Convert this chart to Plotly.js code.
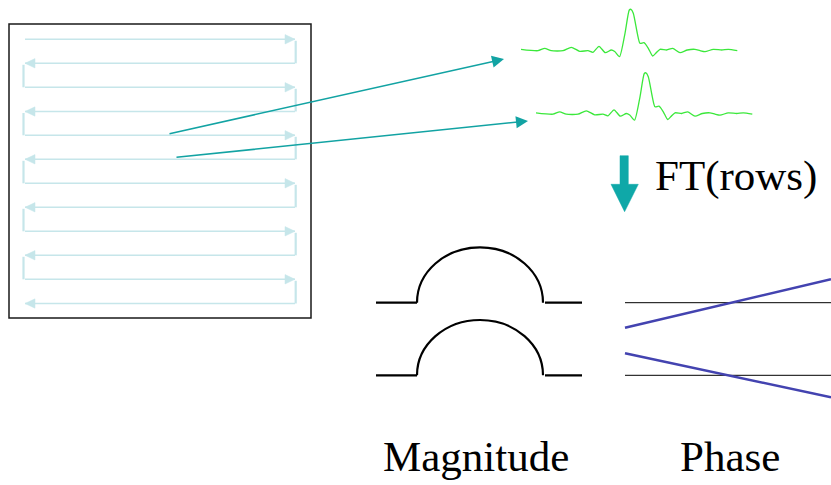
<!DOCTYPE html>
<html>
<head>
<meta charset="utf-8">
<script src="https://cdn.plot.ly/plotly-3.0.1.min.js"></script>
<style>html,body{margin:0;padding:0;background:#fff;}#plot{width:831px;height:485px;}</style>
</head>
<body>
<div id="plot"></div>
<script>
// ---- data (diagram coordinates, page units) ----
// raster scan of k-space rows
const scanRowY = [39.3, 63.3, 87.3, 111.5, 135.3, 159.3, 183.3, 207.3, 231.3, 255.3, 279.3, 303.5];
const scanLeftX = 25;
const scanRightX = 295;
const frameX = [9, 311];
const frameY = [24, 318];

const signalX = [521, 538, 544.7, 551.3, 563, 571.3, 579.7, 588, 593, 599, 605.3, 611.3, 614.7, 619.5,
  625, 629.3, 631, 633.3, 637.3, 640, 644, 648.3, 652.7, 656, 660, 666.7, 672.7, 680, 687.3, 695,
  700, 705, 713.3, 721.7, 728.3, 737.3];
const signalY = [49.3, 50.7, 48.3, 50.7, 50.7, 47.3, 51.3, 50.7, 52.3, 46.3, 52.7, 50, 51.5, 56.7,
  33.3, 10, 9.3, 13.3, 33.3, 43.3, 42.7, 48.3, 56, 53, 49.3, 50, 48.3, 52.7, 50, 49.3,
  50.7, 51.7, 49.3, 50, 49.3, 50.7];
const signalOffsetX = [0, 15];
const signalOffsetY = [0, 63.5];

// pointers from scan rows to signals
const pointerFromX = [168, 175];
const pointerFromY = [134, 157.5];
const pointerToX = [504, 528];
const pointerToY = [59, 121];

// FT arrow
const ftArrowX = [620, 628.3, 628.3, 638.3, 624.6, 611, 620];
const ftArrowY = [155.7, 155.7, 184.3, 184.3, 211.7, 184.3, 184.3];

// magnitude humps
const magBaseY = [302.7, 375.3];
const magHeight = [55.4, 55.3];
const magFlatLeft = [376, 417];
const magHump = [417, 543];
const magFlatRight = [545, 582];

// phase: reference lines and linear phase ramps
const phaseRefX = [625, 831];
const phaseRampStartY = [327.7, 353.3];
const phaseRampEndY = [279.3, 397.3];

const labels = ['FT(rows)', 'Magnitude', 'Phase'];

// ---- traces ----
const traces = [];
const shapes = [];
const annotations = [];

// scan rows (lines)
const rowX = [], rowY = [];
scanRowY.forEach(y => { rowX.push(scanLeftX, scanRightX, null); rowY.push(y, y, null); });
traces.push({x: rowX, y: rowY, mode: 'lines', line: {color: '#c6e6ea', width: 1.5}, hoverinfo: 'skip'});

// connectors
const conX = [], conY = [];
for (let i = 0; i < scanRowY.length - 1; i++) {
  const cx = (i % 2 === 0) ? scanRightX + 0.7 : scanLeftX - 1.5;
  conX.push(cx, cx, null);
  conY.push(scanRowY[i] + 1.5, scanRowY[i + 1], null);
}
traces.push({x: conX, y: conY, mode: 'lines', line: {color: '#c6e6ea', width: 2.2}, hoverinfo: 'skip'});

// arrow heads on scan rows
const headX = [], headY = [];
scanRowY.forEach((y, i) => {
  if (i % 2 === 0) {
    headX.push(scanRightX, scanRightX - 10, scanRightX - 10, scanRightX, null);
  } else {
    headX.push(scanLeftX, scanLeftX + 10, scanLeftX + 10, scanLeftX, null);
  }
  headY.push(y, y - 4.7, y + 4.7, y, null);
});
traces.push({x: headX, y: headY, mode: 'lines', fill: 'toself', fillcolor: '#c6e6ea',
  line: {color: '#c6e6ea', width: 0.5}, hoverinfo: 'skip'});

// frame
shapes.push({type: 'rect', xref: 'x', yref: 'y', x0: frameX[0], x1: frameX[1], y0: frameY[0], y1: frameY[1],
  line: {color: '#1a1a1a', width: 1.5}});

// signals
signalOffsetX.forEach((dx, k) => {
  traces.push({x: signalX.map(v => v + dx), y: signalY.map(v => v + signalOffsetY[k]),
    mode: 'lines', line: {color: '#3be83b', width: 1.3, shape: 'spline', smoothing: 0.6}, hoverinfo: 'skip'});
});

// pointers
pointerFromX.forEach((fx, k) => {
  annotations.push({x: pointerToX[k], y: pointerToY[k], ax: fx, ay: pointerFromY[k],
    xref: 'x', yref: 'y', axref: 'x', ayref: 'y', text: '', showarrow: true,
    arrowhead: 2, arrowsize: 1.6, arrowwidth: 1.5, arrowcolor: '#12a3a3', standoff: 0, startstandoff: 0});
});

// FT arrow
traces.push({x: ftArrowX.concat([ftArrowX[0]]), y: ftArrowY.concat([ftArrowY[0]]), mode: 'lines',
  fill: 'toself', fillcolor: '#0fa8a8', line: {color: '#0fa8a8', width: 0.5}, hoverinfo: 'skip'});

// magnitude
const kap = 0.5523;
magBaseY.forEach((y0, k) => {
  traces.push({x: magFlatLeft, y: [y0, y0], mode: 'lines', line: {color: '#000', width: 2.2}, hoverinfo: 'skip'});
  traces.push({x: magFlatRight, y: [y0, y0], mode: 'lines', line: {color: '#000', width: 2.2}, hoverinfo: 'skip'});
  const a = magHump[0], b = magHump[1], cx = (a + b) / 2, rx = (b - a) / 2, ry = magHeight[k];
  const path = 'M' + a + ',' + y0 +
    ' C' + a + ',' + (y0 - kap * ry) + ' ' + (cx - kap * rx) + ',' + (y0 - ry) + ' ' + cx + ',' + (y0 - ry) +
    ' C' + (cx + kap * rx) + ',' + (y0 - ry) + ' ' + b + ',' + (y0 - kap * ry) + ' ' + b + ',' + y0;
  shapes.push({type: 'path', xref: 'x', yref: 'y', path: path, line: {color: '#000', width: 2.2}});
});

// phase
magBaseY.forEach((y0, k) => {
  traces.push({x: phaseRefX, y: [y0, y0], mode: 'lines', line: {color: '#000', width: 1}, hoverinfo: 'skip'});
  traces.push({x: phaseRefX, y: [phaseRampStartY[k], phaseRampEndY[k]], mode: 'lines',
    line: {color: '#4343b0', width: 2.5}, hoverinfo: 'skip'});
});

// labels
const serif = 'Liberation Serif, Times New Roman, serif';
annotations.push({x: 653, y: 175.5, xref: 'x', yref: 'y', xanchor: 'left', yanchor: 'middle',
  text: labels[0], showarrow: false, font: {family: serif, size: 43, color: '#000'}});
annotations.push({x: 475.5, y: 456.5, xref: 'x', yref: 'y', xanchor: 'center', yanchor: 'middle',
  text: labels[1], showarrow: false, font: {family: serif, size: 43, color: '#000'}});
annotations.push({x: 729.5, y: 456.5, xref: 'x', yref: 'y', xanchor: 'center', yanchor: 'middle',
  text: labels[2], showarrow: false, font: {family: serif, size: 43, color: '#000'}});

const layout = {
  width: 831, height: 485,
  margin: {l: 0, r: 0, t: 0, b: 0, pad: 0},
  paper_bgcolor: '#fff', plot_bgcolor: '#fff',
  showlegend: false,
  xaxis: {range: [0, 831], visible: false, fixedrange: true},
  yaxis: {range: [485, 0], visible: false, fixedrange: true},
  shapes: shapes,
  annotations: annotations
};

Plotly.newPlot('plot', traces, layout, {staticPlot: true, displayModeBar: false});
</script>
</body>
</html>
